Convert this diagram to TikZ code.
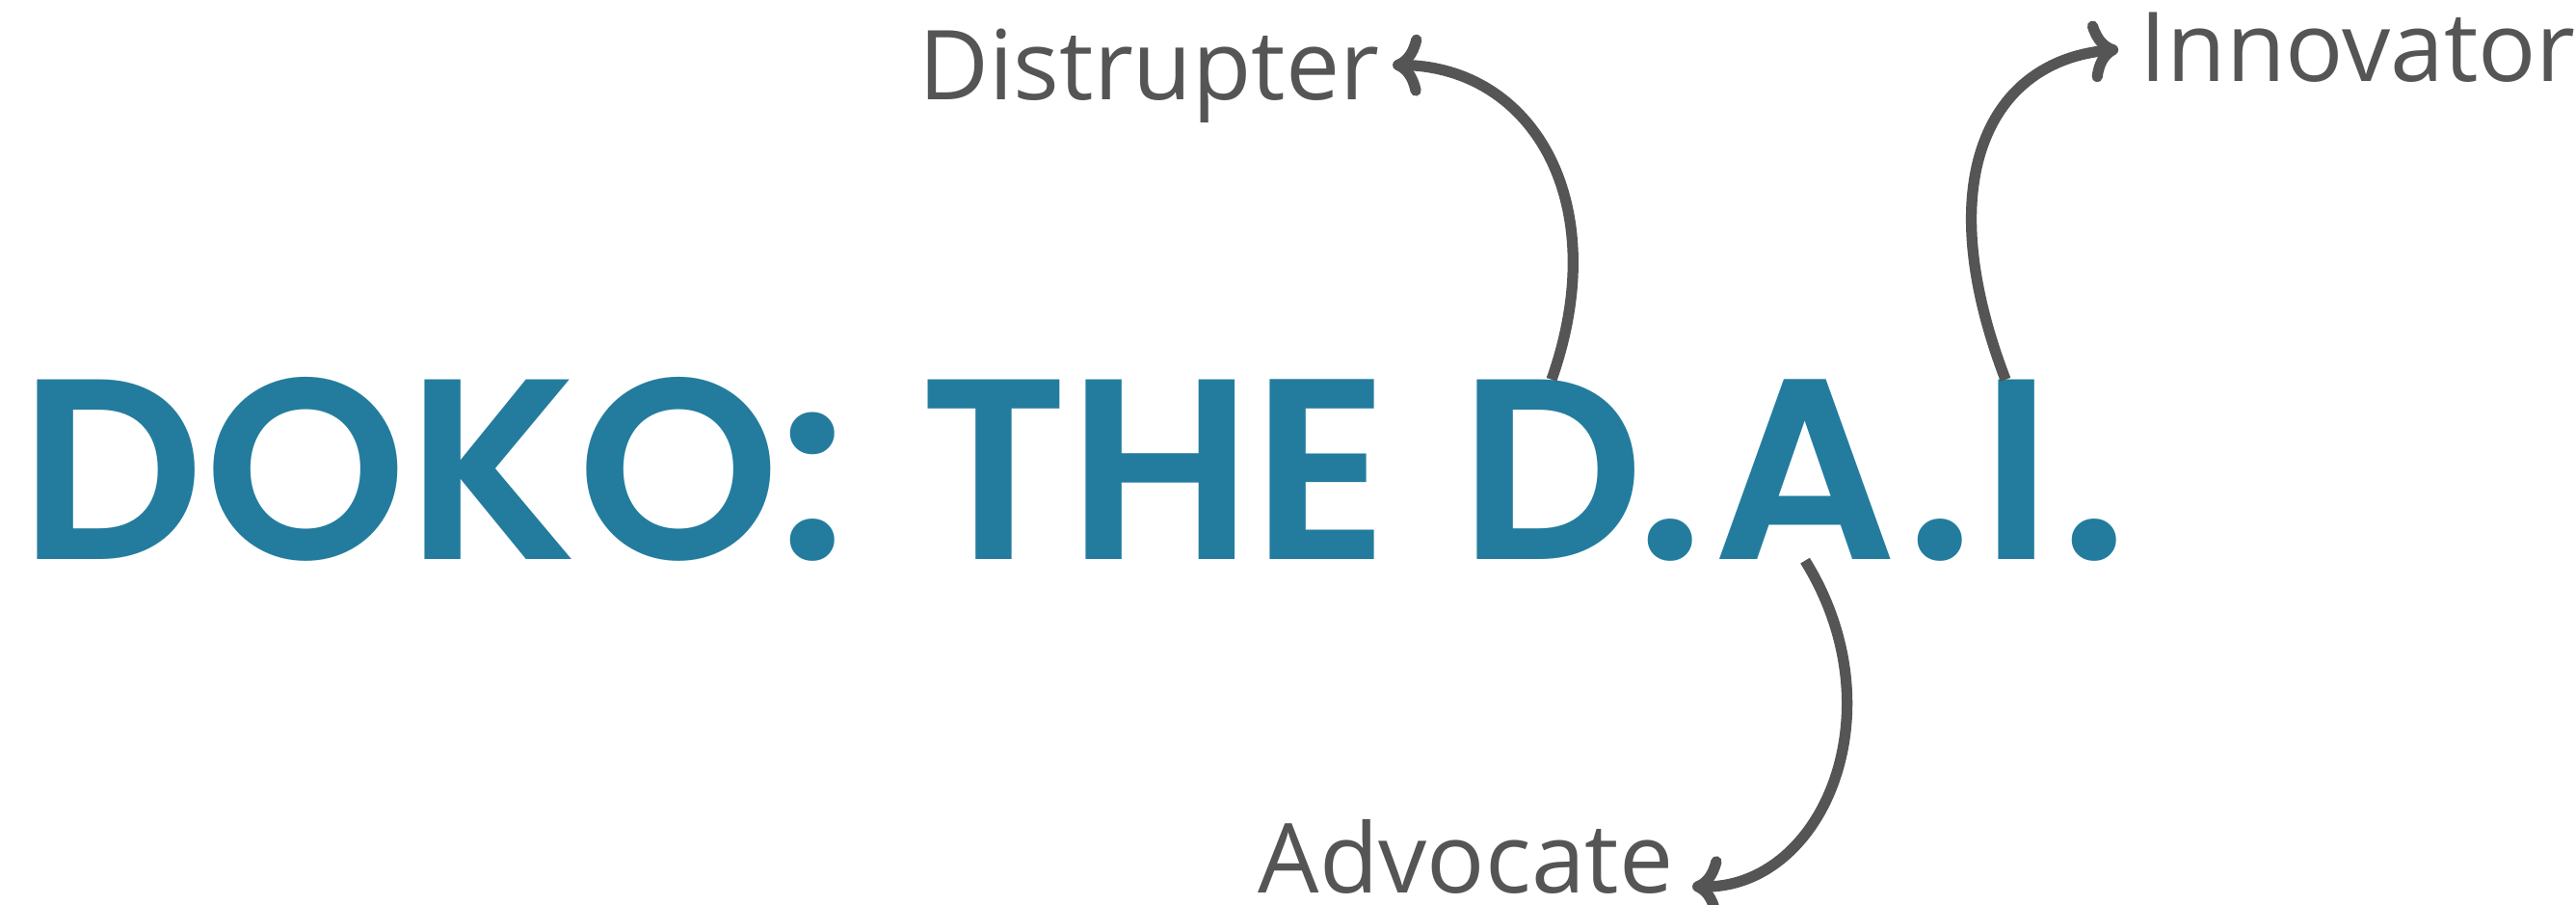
\documentclass[tikz,border=0pt]{standalone}
\usepackage{fontspec}
\usetikzlibrary{arrows.meta}
\newfontfamily\titlefont{Poppins SemiBold}
\newfontfamily\labelfont{Open Sans}
\definecolor{dokoteal}{RGB}{35,124,158}
\definecolor{dokogrey}{RGB}{85,85,85}

\begin{document}
\begin{tikzpicture}[
  headline/.style={anchor=base,inner sep=0pt,text=dokoteal,font=\titlefont\fontsize{76}{80}\selectfont},
  role/.style={inner sep=0pt,text depth=0pt,text=dokogrey,font=\labelfont\fontsize{28.5}{30}\selectfont},
  pointer/.style={draw=dokogrey,line width=3.2pt,-{Computer Modern Rightarrow[length=3mm,width=6.4mm]}}]
\useasboundingbox (0,0) rectangle (26.73,9.39);

% title
\node[headline] (doko) at (4.50,3.58) {DOKO:};
\node[headline] (the) at (11.98,3.58) {THE};
\node[headline] (dletter) at (16.10,3.58) {D};
\node[headline] (dotone) at (17.33,3.58) {.};
\node[headline] (aletter) at (18.73,3.58) {A};
\node[headline] (dottwo) at (20.13,3.58) {.};
\node[headline] (iletter) at (20.93,3.58) {I};
\node[headline] (dotthree) at (21.73,3.58) {.};

% roles
\node[role,anchor=base east] (distrupter) at (14.32,8.35) {Distrupter};
\node[role,anchor=base west] (innovator) at (22.20,8.54) {Innovator};
\node[role,anchor=base east] (advocate) at (17.37,0.12) {Advocate};

\draw[pointer,shorten >=1.3mm] (dletter.north) .. controls +(0.65,1.84) and +(1.58,-0.02) .. (distrupter.east);
\draw[pointer,shorten >=2.2mm] ([xshift=-1.2mm]iletter.north) .. controls +(-0.8,2.09) and +(-1.55,-0.14) .. (innovator.west);
\draw[pointer,shorten >=1.9mm] (aletter.south) .. controls +(0.98,-1.58) and +(1.53,-0.03) .. (advocate.mid east);

\end{tikzpicture}
\end{document}
